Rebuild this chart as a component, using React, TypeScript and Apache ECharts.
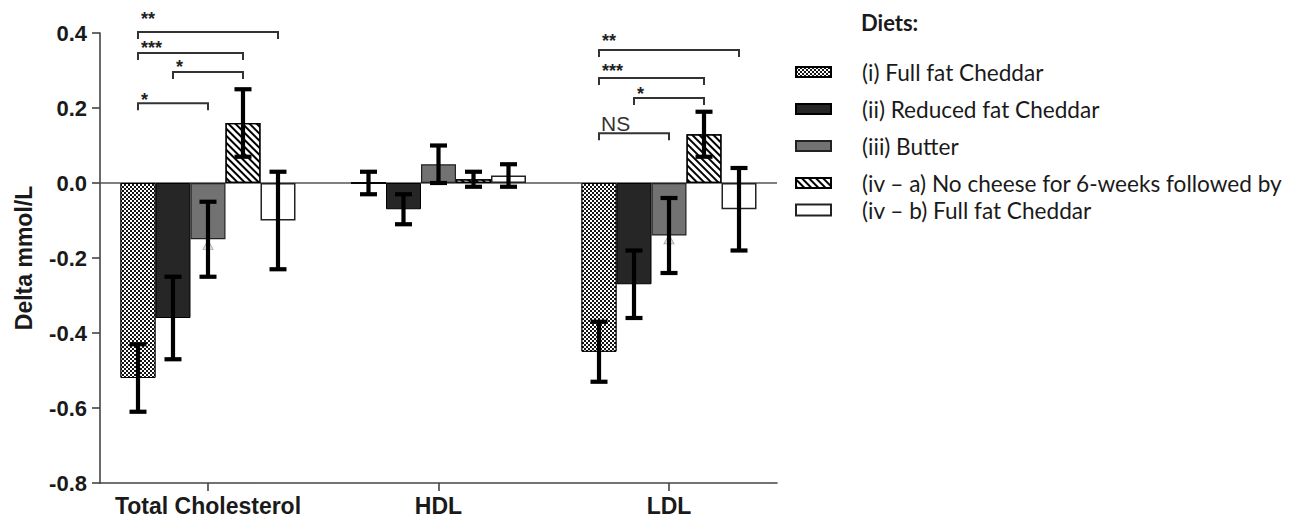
import React, { useEffect, useRef } from 'react';
import * as echarts from 'echarts';

const categories = ['Total Cholesterol', 'HDL', 'LDL'];
const dietNames = [
  '(i) Full fat Cheddar',
  '(ii) Reduced fat Cheddar',
  '(iii) Butter',
  '(iv – a) No cheese for 6-weeks followed by',
  '(iv – b) Full fat Cheddar',
];

// mean change (mmol/L) per category: TC, HDL, LDL
const fullFat = [-0.52, 0.0, -0.45];
const reducedFat = [-0.36, -0.07, -0.27];
const butter = [-0.15, 0.05, -0.14];
const noCheese = [0.16, 0.01, 0.13];
const fullFatAfter = [-0.1, 0.02, -0.07];

// error (half-length of the error bar)
const fullFatErr = [0.09, 0.03, 0.08];
const reducedFatErr = [0.11, 0.04, 0.09];
const butterErr = [0.1, 0.05, 0.1];
const noCheeseErr = [0.09, 0.02, 0.06];
const fullFatAfterErr = [0.13, 0.03, 0.11];

const yMin = -0.8;
const yMax = 0.4;
const yStep = 0.2;

// faint triangle marks seen on the butter bars
const butterMarks = [
  [0, -0.165],
  [2, -0.15],
];

// significance brackets: category, from bar, to bar, bracket level, label level, label
const bracketCats = [0, 0, 0, 0, 2, 2, 2, 2];
const bracketFrom = [0, 0, 1, 0, 0, 0, 1, 0];
const bracketTo = [4, 3, 3, 2, 4, 3, 3, 2];
const bracketLevel = [0.403, 0.347, 0.296, 0.213, 0.355, 0.28, 0.227, 0.133];
const bracketLabelLevel = [0.448, 0.371, 0.32, 0.232, 0.389, 0.309, 0.248, 0.16];
const bracketLabels = ['**', '***', '*', '*', '**', '***', '*', 'NS'];

const means = [fullFat, reducedFat, butter, noCheese, fullFatAfter];
const errs = [fullFatErr, reducedFatErr, butterErr, noCheeseErr, fullFatAfterErr];

const BAR_W = 35;
const AXIS_FONT = '"Liberation Sans", Arial, Helvetica, sans-serif';
const LEGEND_FONT = 'Lato, "Open Sans", sans-serif';

const checkerDecal = {
  symbol: 'rect',
  symbolSize: 1,
  color: '#ffffff',
  backgroundColor: '#151515',
  dashArrayX: [
    [2, 2],
    [0, 2, 2, 0],
  ],
  dashArrayY: [2, 0],
  rotation: 0,
};

const hatchDecal = {
  symbol: 'rect',
  symbolSize: 1,
  color: '#000000',
  backgroundColor: '#ffffff',
  dashArrayX: [1, 0],
  dashArrayY: [2, 3],
  rotation: Math.PI / 4,
};

const barStyles: any[] = [
  { color: '#151515', borderColor: '#000', borderWidth: 1, decal: checkerDecal },
  { color: '#262626', borderColor: '#000', borderWidth: 1 },
  { color: '#727272', borderColor: '#222', borderWidth: 1.2 },
  { color: '#ffffff', borderColor: '#000', borderWidth: 1.2, decal: hatchDecal },
  { color: '#ffffff', borderColor: '#222', borderWidth: 1.5 },
];

export default function App() {
  const ref = useRef<HTMLDivElement>(null);

  useEffect(() => {
    document.body.style.margin = '0';
    const chart = echarts.init(ref.current!, null, { renderer: 'svg' });

    const barSeries = means.map((vals, s) => ({
      type: 'bar',
      name: dietNames[s],
      data: vals.map((v, c) => [c, v]),
      barWidth: BAR_W,
      barGap: '0%',
      itemStyle: barStyles[s],
      z: 2,
      markLine:
        s === 0
          ? {
              silent: true,
              symbol: 'none',
              label: { show: false },
              lineStyle: { color: '#555', width: 1.5, type: 'solid' },
              data: [{ yAxis: 0 }],
              z: 1,
            }
          : undefined,
    }));

    const errData: number[][] = [];
    means.forEach((vals, s) => {
      vals.forEach((v, c) => {
        errData.push([c, s, v - errs[s][c], v + errs[s][c]]);
      });
    });

    const errorSeries = {
      type: 'custom',
      name: 'errors',
      z: 6,
      clip: false,
      data: errData,
      renderItem: (params: any, api: any) => {
        const c = api.value(0);
        const s = api.value(1);
        const lo = api.value(2);
        const hi = api.value(3);
        const x = api.coord([c, 0])[0] + (s - 2) * BAR_W;
        const yLo = api.coord([c, lo])[1];
        const yHi = api.coord([c, hi])[1];
        const half = 8.5;
        const st = { stroke: '#000', lineWidth: 4.2 };
        return {
          type: 'group',
          children: [
            { type: 'line', shape: { x1: x, y1: yLo, x2: x, y2: yHi }, style: st },
            { type: 'line', shape: { x1: x - half, y1: yLo, x2: x + half, y2: yLo }, style: st },
            { type: 'line', shape: { x1: x - half, y1: yHi, x2: x + half, y2: yHi }, style: st },
          ],
        };
      },
    };

    const bracketSeries = {
      type: 'custom',
      name: 'brackets',
      z: 7,
      clip: false,
      data: bracketCats.map((c, i) => [c, bracketFrom[i], bracketTo[i], bracketLevel[i], bracketLabelLevel[i]]),
      renderItem: (params: any, api: any) => {
        const i = params.dataIndex;
        const c = api.value(0);
        const f = api.value(1);
        const t = api.value(2);
        const cx = api.coord([c, 0])[0];
        const x1 = cx + (f - 2) * BAR_W;
        const x2 = cx + (t - 2) * BAR_W;
        const y = api.coord([c, api.value(3)])[1];
        const ly = api.coord([c, api.value(4)])[1];
        const label = bracketLabels[i];
        const isStar = label.indexOf('*') >= 0;
        return {
          type: 'group',
          children: [
            {
              type: 'polyline',
              shape: { points: [[x1, y + 7], [x1, y], [x2, y], [x2, y + 7]] },
              style: { stroke: '#333', lineWidth: 2, fill: 'none' },
            },
            {
              type: 'text',
              x: x1 + (isStar ? 3 : 2),
              y: isStar ? ly + 4 : ly,
              style: {
                text: label,
                fill: isStar ? '#222' : '#333',
                font: isStar
                  ? `bold 18px ${AXIS_FONT}`
                  : `normal 21px ${AXIS_FONT}`,
                textAlign: 'left',
                textVerticalAlign: 'middle',
              },
            },
          ],
        };
      },
    };

    const markSeries = {
      type: 'scatter',
      name: 'marks',
      data: butterMarks,
      symbol: 'triangle',
      symbolSize: [10, 9],
      itemStyle: { color: '#e6e6e6', borderColor: '#9a9a9a', borderWidth: 1 },
      z: 4,
      silent: true,
    };

    const legendText = {
      fontFamily: LEGEND_FONT,
      fontSize: 22.6,
      color: '#1a1a1a',
      lineHeight: 24,
      padding: [0, 0, 0, 26],
    };

    chart.setOption({
      animation: false,
      backgroundColor: '#ffffff',
      title: {
        text: 'Diets:',
        left: 861,
        top: 11,
        padding: 0,
        textStyle: { fontFamily: LEGEND_FONT, fontWeight: 'bold', fontSize: 22, color: '#1a1a1a' },
      },
      legend: [
        {
          data: dietNames.slice(0, 4),
          orient: 'vertical',
          left: 795,
          top: 60,
          padding: 0,
          itemWidth: 35,
          itemHeight: 10,
          itemGap: 13,
          icon: 'rect',
          selectedMode: false,
          textStyle: legendText,
        },
        {
          data: dietNames.slice(4),
          orient: 'vertical',
          left: 795,
          top: 198,
          padding: 0,
          itemWidth: 35,
          itemHeight: 11,
          icon: 'rect',
          selectedMode: false,
          textStyle: legendText,
        },
      ],
      grid: { left: 100, right: 516, top: 33, bottom: 38, containLabel: false },
      xAxis: {
        type: 'value',
        min: -0.4685,
        max: 2.4685,
        axisLine: { show: true, onZero: false, lineStyle: { color: '#444', width: 1.6 } },
        axisTick: { show: true, customValues: [0, 1, 2], length: 8, lineStyle: { color: '#444', width: 1.6 } },
        axisLabel: {
          customValues: [0, 1, 2],
          formatter: (v: number) => categories[Math.round(v)],
          margin: 11,
          fontFamily: AXIS_FONT,
          fontWeight: 'bold',
          fontSize: 23,
          color: '#1a1a1a',
        },
        splitLine: { show: false },
      },
      yAxis: {
        type: 'value',
        min: yMin,
        max: yMax,
        interval: yStep,
        name: 'Delta mmol/L',
        nameLocation: 'middle',
        nameRotate: 90,
        nameGap: 65,
        nameTextStyle: { fontFamily: AXIS_FONT, fontWeight: 'bold', fontSize: 23, color: '#1a1a1a' },
        axisLine: { show: true, onZero: false, lineStyle: { color: '#444', width: 1.6 } },
        axisTick: { show: true, length: 8, lineStyle: { color: '#444', width: 1.6 } },
        axisLabel: {
          margin: 13,
          formatter: (v: number) => v.toFixed(1),
          fontFamily: AXIS_FONT,
          fontWeight: 'bold',
          fontSize: 22,
          color: '#1a1a1a',
        },
        splitLine: { show: false },
      },
      series: [...barSeries, markSeries, errorSeries, bracketSeries],
    } as any);

    return () => chart.dispose();
  }, []);

  return <div ref={ref} style={{ width: 1293, height: 521 }} />;
}
